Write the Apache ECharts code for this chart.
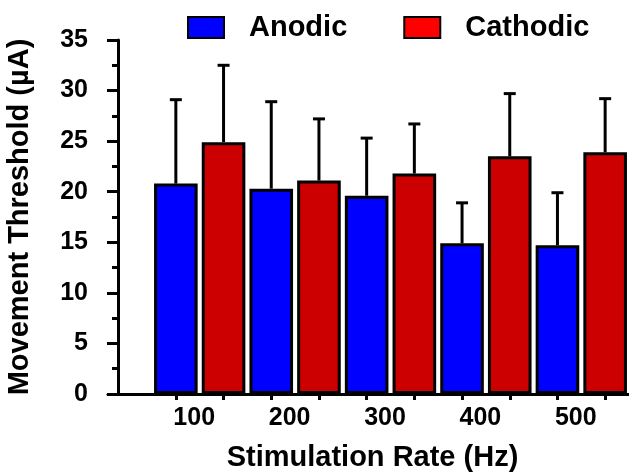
<!DOCTYPE html>
<html>
<head>
<meta charset="utf-8">
<script src="https://cdn.jsdelivr.net/npm/echarts@6/dist/echarts.min.js"></script>
<style>html,body{margin:0;padding:0;background:#fff}#c{width:629px;height:474px}</style>
</head>
<body>
<div id="c"></div>
<script>
const categories = ['100', '200', '300', '400', '500'];
const barTicks = ['', '', '', '', '', '', '', '', '', ''];
const yTicks = [0, 35, 5];
const anodicMean = [20.8, 20.3, 19.6, 14.9, 14.7];
const anodicUpper = [29.1, 28.9, 25.3, 18.9, 19.9];
const cathodicMean = [24.9, 21.1, 21.8, 23.5, 23.9];
const cathodicUpper = [32.5, 27.2, 26.7, 29.7, 29.2];

const FONT = "'Liberation Sans', Arial, sans-serif";

function errData(mean, upper) {
  return mean.map((m, i) => [i, m, upper[i]]);
}
function errRender(sign) {
  return function (params, api) {
    const cat = api.value(0);
    const base = api.coord([cat, api.value(1)]);
    const top = api.coord([cat, api.value(2)]);
    const bw = api.size([1, 0])[0];
    const cx = base[0] + sign * bw / 4;
    const st = { stroke: '#000', lineWidth: 3 };
    return {
      type: 'group',
      children: [
        { type: 'line', shape: { x1: cx, y1: base[1], x2: cx, y2: top[1] }, style: st },
        { type: 'line', shape: { x1: cx - 6, y1: top[1], x2: cx + 6, y2: top[1] }, style: st }
      ]
    };
  };
}

const chart = echarts.init(document.getElementById('c'), null, { renderer: 'canvas' });
chart.setOption({
  animation: false,
  backgroundColor: '#fff',
  textStyle: { fontFamily: FONT },
  legend: {
    left: 187, top: 13, padding: 0,
    itemWidth: 36, itemHeight: 21, itemGap: 56,
    icon: 'rect',
    itemStyle: { borderColor: '#000', borderWidth: 2 },
    textStyle: { fontFamily: FONT, fontSize: 29, fontWeight: 'bold', color: '#000', padding: [0, 0, 0, 20] },
    data: [
      { name: 'Anodic', itemStyle: { color: '#0000FF' } },
      { name: 'Cathodic', itemStyle: { color: '#FF0000' } }
    ]
  },
  grid: [
    { left: 108, right: 0, top: 40, bottom: 80, containLabel: false, outerBoundsMode: 'none' },
    { left: 152, right: 0, top: 40, bottom: 80, containLabel: false, outerBoundsMode: 'none' }
  ],
  xAxis: [
    {
      gridIndex: 0, type: 'value', min: 0, max: 1,
      axisLine: { show: true, lineStyle: { color: '#000', width: 3 } },
      axisTick: { show: false }, axisLabel: { show: false }, splitLine: { show: false },
      name: 'Stimulation Rate (Hz)', nameLocation: 'middle', nameGap: 49,
      nameTextStyle: { fontFamily: FONT, fontSize: 29, fontWeight: 'bold', color: '#000', padding: [0, 0, 0, 8] }
    },
    {
      gridIndex: 1, type: 'category', data: categories,
      axisLine: { show: false }, axisTick: { show: false },
      axisLabel: { fontFamily: FONT, fontSize: 25, fontWeight: 'bold', color: '#000', margin: 12, padding: [0, 11, 0, 0] }
    },
    {
      gridIndex: 1, type: 'category', data: barTicks, position: 'bottom',
      axisLine: { show: false },
      axisTick: { show: true, alignWithLabel: true, interval: 0, length: 6, lineStyle: { color: '#000', width: 3 } },
      axisLabel: { show: false }
    }
  ],
  yAxis: [
    {
      gridIndex: 0, type: 'value', min: yTicks[0], max: yTicks[1], interval: yTicks[2], offset: -10,
      axisLine: { show: true, lineStyle: { color: '#000', width: 3 } },
      axisTick: { show: true, length: 11, lineStyle: { color: '#000', width: 3 } },
      minorTick: { show: true, splitNumber: 2, length: 6, lineStyle: { color: '#000', width: 3 } },
      splitLine: { show: false },
      axisLabel: { fontFamily: FONT, fontSize: 25, fontWeight: 'bold', color: '#000', margin: 30 },
      name: 'Movement Threshold (µA)', nameLocation: 'middle', nameGap: 84, nameRotate: 90,
      nameTextStyle: { fontFamily: FONT, fontSize: 29, fontWeight: 'bold', color: '#000' }
    },
    {
      gridIndex: 1, type: 'value', min: yTicks[0], max: yTicks[1], interval: yTicks[2], show: false
    }
  ],
  series: [
    {
      name: 'Anodic', type: 'bar', xAxisIndex: 1, yAxisIndex: 1, data: anodicMean,
      barGap: '9.4%', barCategoryGap: '4.3%',
      itemStyle: { color: '#0000FF', borderColor: '#000', borderWidth: 3 }
    },
    {
      name: 'Cathodic', type: 'bar', xAxisIndex: 1, yAxisIndex: 1, data: cathodicMean,
      barGap: '9.4%', barCategoryGap: '4.3%',
      itemStyle: { color: '#CC0000', borderColor: '#000', borderWidth: 3 }
    },
    {
      name: 'AnodicErr', type: 'custom', xAxisIndex: 1, yAxisIndex: 1, z: 1,
      encode: { x: 0, y: [1, 2] }, data: errData(anodicMean, anodicUpper), renderItem: errRender(-1)
    },
    {
      name: 'CathodicErr', type: 'custom', xAxisIndex: 1, yAxisIndex: 1, z: 1,
      encode: { x: 0, y: [1, 2] }, data: errData(cathodicMean, cathodicUpper), renderItem: errRender(1)
    }
  ]
});
</script>
</body>
</html>
